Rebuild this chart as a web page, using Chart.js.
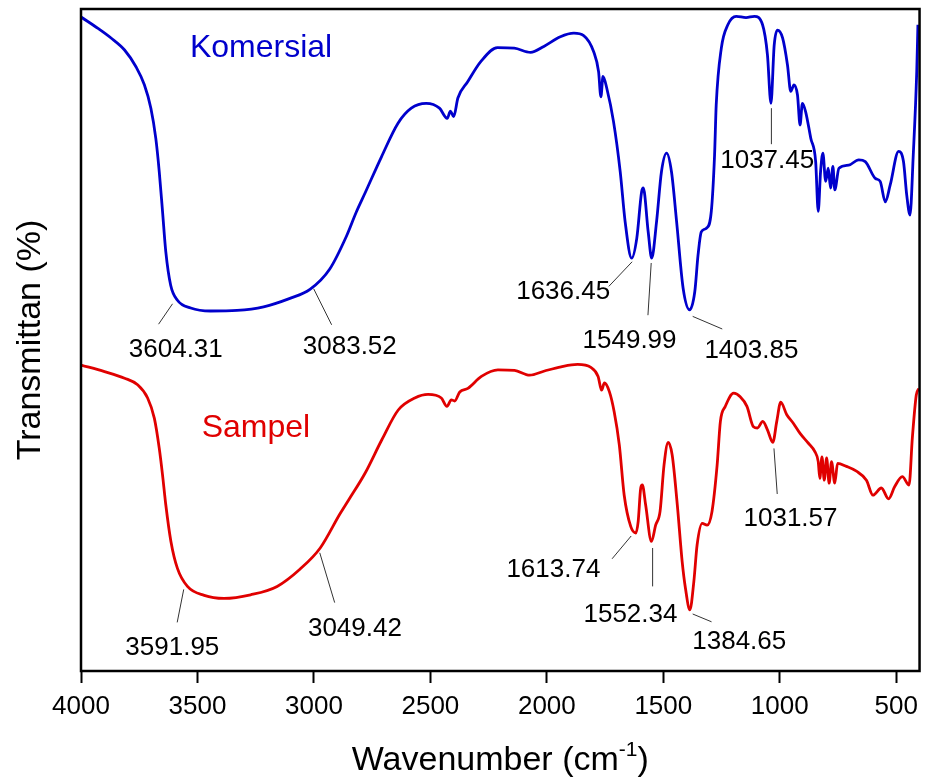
<!DOCTYPE html>
<html><head><meta charset="utf-8">
<script src="https://cdn.jsdelivr.net/npm/chart.js@4.4.1/dist/chart.umd.min.js"></script>
<style>html,body{margin:0;padding:0;background:#fff}#wrap{width:926px;height:779px;position:relative}</style>
</head><body><div id="wrap"><canvas id="c" width="926" height="779"></canvas></div>
<script>
// ---- data (wavenumber in cm-1, transmittance in arbitrary % units, offset traces) ----
const komersialWn = [4000,3927,3871,3813,3764,3728,3700,3679,3664,3650,3636,3615,3586,3529,3444,3330,3216,3103,3017,2932,2860,2818,2780,2710,2639,2582,2518,2461,2428,2414,2400,2382,2340,2283,2212,2140,2070,2013,1942,1884,1842,1799,1778,1768,1759,1742,1714,1685,1664,1636,1614,1593,1586,1565,1550,1529,1508,1486,1465,1443,1415,1387,1365,1351,1337,1315,1294,1280,1273,1251,1223,1187,1145,1109,1074,1053,1038,1024,1010,988,967,953,939,924,913,903,889,867,846,835,825,815,803,792,782,772,764,746,704,661,633,590,569,547,526,490,469,455,441,427,412,407];
const komersialT = [109.0,107.1,105.5,103.5,100.7,97.7,93.8,88.8,83.2,76.6,69.9,64.3,61.8,60.5,60.0,60.1,60.7,62.1,63.6,67.0,72.5,76.5,79.7,85.7,91.3,93.8,94.6,93.8,92.1,93.3,92.4,95.5,98.2,101.6,103.9,103.8,103.1,104.1,105.7,106.3,105.9,103.2,99.9,95.7,99.1,97.0,91.6,83.2,74.9,68.8,72.1,79.9,80.5,73.2,68.8,74.9,83.2,86.3,83.2,74.9,63.8,60.2,63.2,69.3,73.2,73.8,76.6,86.0,94.3,103.8,107.7,109.1,108.9,109.1,107.7,102.7,94.6,104.3,106.8,105.5,101.0,96.6,97.7,96.0,91.0,94.6,93.2,88.8,84.9,76.6,83.2,86.3,81.6,83.8,80.5,84.1,80.2,83.8,84.3,85.2,84.9,82.1,81.6,78.2,81.0,86.6,84.9,79.3,76.0,86.0,99.9,107.7];
const sampelWn = [4000,3899,3813,3757,3714,3685,3664,3650,3636,3614,3586,3543,3471,3386,3272,3158,3059,2973,2888,2851,2780,2709,2638,2567,2510,2453,2429,2410,2396,2374,2339,2281,2210,2139,2074,2010,1939,1868,1811,1780,1765,1753,1732,1711,1689,1668,1640,1618,1608,1597,1590,1576,1551,1533,1514,1497,1479,1462,1440,1419,1405,1386,1369,1355,1333,1312,1291,1269,1255,1234,1198,1170,1141,1113,1096,1073,1053,1030,1013,996,970,942,913,878,850,835,828,819,809,799,788,778,764,752,714,671,628,600,564,533,507,474,445,431,414,403];
const sampelT = [51.0,49.9,48.8,47.7,45.5,42.1,37.1,32.7,27.7,21.6,17.1,14.1,12.6,12.1,12.7,14.1,17.0,20.5,26.2,28.5,33.0,38.5,43.5,45.5,46.1,45.5,44.1,45.2,45.0,46.5,47.1,49.1,50.2,50.1,49.3,50.0,50.7,51.1,50.6,49.1,46.8,48.0,46.6,43.2,37.7,29.3,24.1,23.0,24.9,30.5,31.0,27.7,21.6,24.3,26.6,34.3,38.1,36.0,27.7,18.2,13.8,10.2,14.9,21.0,24.6,24.3,26.6,34.3,41.6,44.1,46.3,45.7,44.1,40.7,40.5,41.6,40.2,38.1,41.6,44.8,42.7,41.3,39.6,38.0,36.6,34.9,32.1,35.7,31.8,35.5,31.3,34.9,31.3,34.6,34.1,33.3,31.8,29.3,30.5,28.7,30.7,32.4,31.0,38.8,46.0,47.1];
const xTickValues = [4000,3500,3000,2500,2000,1500,1000,500];
const seriesNames = ['Komersial','Sampel'];
const seriesNameX = [3227,3249];
const seriesNameY = [102.4,39.05];
// peak annotations: label text, label anchor (wn, T), leader line ends
const peakText   = ['3604.31','3083.52','1636.45','1549.99','1403.85','1037.45','3591.95','3049.42','1613.74','1552.34','1384.65','1031.57'];
const peakLabelX = [3593,2846,1930,1645,1122,1054,3608,2824,1972,1641,1174,954];
const peakLabelY = [52.3,52.8,62.0,53.8,52.1,83.8,2.7,5.8,15.6,8.2,3.6,24.1];
const leaderX1 = [3607,3001,1634,1552,1374,1036,3559,2975,1638,1546,1374,1025];
const leaderY1 = [61.2,63.7,68.2,68.0,59.1,93.8,13.6,19.7,22.5,20.5,9.5,37.1];
const leaderX2 = [3667,2924,1734,1566,1247,1036,3587,2911,1720,1546,1293,1011];
const leaderY2 = [57.8,57.7,64.1,59.3,57.0,87.8,8.1,11.4,18.7,14.1,8.2,29.5];

const FONT = "'Liberation Sans', Arial, Helvetica, sans-serif";
const BLUE = '#0000cc', RED = '#e00000';

const overlay = {
  id:'overlay',
  afterDatasetsDraw(chart){
    const ctx = chart.ctx, a = chart.chartArea, xs = chart.scales.x, ys = chart.scales.y;
    ctx.save();
    // frame
    ctx.strokeStyle = '#000'; ctx.lineWidth = 2.5;
    ctx.strokeRect(a.left, a.top, a.right - a.left, a.bottom - a.top);
    // leader lines
    ctx.strokeStyle = '#333'; ctx.lineWidth = 1;
    for (let i = 0; i < peakText.length; i++){
      ctx.beginPath();
      ctx.moveTo(xs.getPixelForValue(leaderX1[i]), ys.getPixelForValue(leaderY1[i]));
      ctx.lineTo(xs.getPixelForValue(leaderX2[i]), ys.getPixelForValue(leaderY2[i]));
      ctx.stroke();
    }
    // peak labels
    ctx.fillStyle = '#000'; ctx.font = '26px ' + FONT; ctx.textAlign = 'center'; ctx.textBaseline = 'alphabetic';
    for (let i = 0; i < peakText.length; i++){
      ctx.fillText(peakText[i], xs.getPixelForValue(peakLabelX[i]), ys.getPixelForValue(peakLabelY[i]));
    }
    // series names
    ctx.font = '32px ' + FONT;
    const cols = [BLUE, RED];
    for (let i = 0; i < seriesNames.length; i++){
      ctx.fillStyle = cols[i];
      ctx.fillText(seriesNames[i], xs.getPixelForValue(seriesNameX[i]), ys.getPixelForValue(seriesNameY[i]));
    }
    // y title
    ctx.fillStyle = '#000'; ctx.font = '34px ' + FONT;
    ctx.save();
    ctx.translate(40, (a.top + a.bottom) / 2);
    ctx.rotate(-Math.PI / 2);
    ctx.textAlign = 'center'; ctx.textBaseline = 'alphabetic';
    ctx.fillText('Transmittan (%)', 0, 0);
    ctx.restore();
    // x title with superscript
    const main = 'Wavenumber (cm', sup = '-1', close = ')';
    ctx.font = '34px ' + FONT; const w1 = ctx.measureText(main).width, w3 = ctx.measureText(close).width;
    ctx.font = '21px ' + FONT; const w2 = ctx.measureText(sup).width;
    const cx = (a.left + a.right) / 2, base = 770;
    let x0 = cx - (w1 + w2 + w3) / 2;
    ctx.textAlign = 'left';
    ctx.font = '34px ' + FONT; ctx.fillText(main, x0, base);
    ctx.font = '21px ' + FONT; ctx.fillText(sup, x0 + w1, base - 14);
    ctx.font = '34px ' + FONT; ctx.fillText(close, x0 + w1 + w2, base);
    ctx.restore();
  }
};

new Chart(document.getElementById('c'), {
  type:'line',
  data:{datasets:[
    {label:seriesNames[0], data:komersialWn.map((x,i)=>({x:x, y:komersialT[i]})), borderColor:BLUE, borderWidth:2.8, pointRadius:0, cubicInterpolationMode:'monotone', fill:false},
    {label:seriesNames[1], data:sampelWn.map((x,i)=>({x:x, y:sampelT[i]})), borderColor:RED, borderWidth:2.8, pointRadius:0, cubicInterpolationMode:'monotone', fill:false}
  ]},
  options:{
    responsive:false, animation:false, devicePixelRatio:1,
    layout:{padding:{left:81, right:2, top:9, bottom:0}},
    plugins:{legend:{display:false}, tooltip:{enabled:false}},
    scales:{
      x:{type:'linear', reverse:true, min:400, max:4000,
        afterBuildTicks:s=>{ s.ticks = xTickValues.map(v=>({value:v})); },
        afterFit:s=>{ s.height = 108; },
        ticks:{font:{family:FONT, size:26}, color:'#000', padding:8, maxRotation:0, autoSkip:false, callback:v=>String(v)},
        grid:{display:true, drawOnChartArea:false, drawTicks:true, tickLength:12, tickColor:'#000', tickWidth:2},
        border:{display:false}},
      y:{display:false, min:0, max:110.33}
    }
  },
  plugins:[overlay]
});
</script>
</body></html>
